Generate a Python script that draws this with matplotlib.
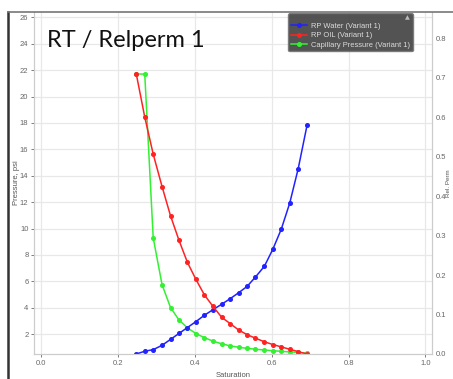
import matplotlib
matplotlib.use("Agg")
import matplotlib.pyplot as plt
from matplotlib.lines import Line2D

plt.rcParams['font.family'] = ['Liberation Sans', 'DejaVu Sans']

# Насыщенность (общая для всех кривых)
saturation = [0.248, 0.270, 0.292, 0.315, 0.337, 0.359, 0.381, 0.403, 0.425, 0.447, 0.470,
              0.492, 0.514, 0.536, 0.558, 0.581, 0.603, 0.625, 0.647, 0.669, 0.692]

# Относительная проницаемость по воде и нефти (правая ось)
rp_water = [0.0, 0.007, 0.011, 0.022, 0.037, 0.052, 0.067, 0.082, 0.098, 0.112, 0.126,
            0.140, 0.155, 0.171, 0.195, 0.222, 0.265, 0.316, 0.382, 0.469, 0.579]
rp_oil = [0.709, 0.600, 0.506, 0.424, 0.350, 0.288, 0.232, 0.189, 0.150, 0.121, 0.093,
          0.077, 0.061, 0.049, 0.040, 0.031, 0.024, 0.018, 0.012, 0.006, 0.0]

# Капиллярное давление, psi (левая ось)
cap_pressure = [21.7, 21.7, 9.3, 5.75, 4.02, 3.08, 2.48, 2.05, 1.74, 1.48, 1.27,
                1.12, 1.01, 0.93, 0.86, 0.80, 0.75, 0.70, 0.66, 0.62, 0.56]

labels = ['RP Water (Variant 1)', 'RP OIL (Variant 1)', 'Capillary Pressure (Variant 1)']
x_ticks = [0.0, 0.2, 0.4, 0.6, 0.8, 1.0]
left_ticks = list(range(2, 27, 2))
right_ticks = [0.0, 0.1, 0.2, 0.3, 0.4, 0.5, 0.6, 0.7, 0.8]

W, H = 453, 379
fig = plt.figure(figsize=(W / 100, H / 100), dpi=100)
ax = fig.add_axes([34 / W, 1 - 354 / H, (432 - 34) / W, (354 - 12) / H])
ax2 = ax.twinx()

tick_col = '#666666'
ms = 2.6
lw = 1.1
lg, = ax.plot(saturation, cap_pressure, color='#33f033', lw=lw, marker='o', ms=ms, label=labels[2])
lb, = ax2.plot(saturation, rp_water, color='#2222ff', lw=lw, marker='o', ms=ms, label=labels[0])
lr, = ax2.plot(saturation, rp_oil, color='#ff2222', lw=lw, marker='o', ms=ms, label=labels[1])

ax.set_xlim(-0.018, 1.017)
ax.set_ylim(0.5, 26.4)
ax2.set_ylim(0.0, 0.866)
ax.set_xticks(x_ticks)
ax.set_xticklabels(['%.1f' % v for v in x_ticks])
ax.set_yticks(left_ticks)
ax2.set_yticks(right_ticks)
ax2.set_yticklabels(['%.1f' % v for v in right_ticks])

ax.grid(True, color='#e8e8e8', lw=0.9)
for a in (ax, ax2):
    a.tick_params(labelsize=5.5, colors=tick_col, length=2, width=0.6, pad=2)
    for s in a.spines.values():
        s.set_color('#cccccc')
        s.set_linewidth(0.8)
    a.spines['top'].set_visible(False)
ax2.tick_params(axis='y', length=0, pad=3)

ax.set_xlabel('Saturation', fontsize=5.5, color='#555555', labelpad=4)
ax.set_ylabel('Pressure, psi', fontsize=5.5, color='#555555')
ax.yaxis.set_label_coords((20 - 34) / 398, 0.5)
ax2.set_ylabel('Rel. Perm', fontsize=4.5, color='#555555', rotation=90)
ax2.yaxis.set_label_coords((445.5 - 34) / 398, 0.5)

# Заголовок внутри области графика
fig.text(47 / W, 1 - 47 / H, 'RT / Relperm 1', fontsize=17, family='Lato', color='#111111', va='baseline')

# Легенда
leg = ax2.legend(handles=[lb, lr, lg], loc='upper left', bbox_to_anchor=(288 / W, 1 - 13 / H),
                 bbox_transform=fig.transFigure, borderaxespad=0, fontsize=5.4, handlelength=2.2,
                 handletextpad=0.5, labelspacing=0.28, borderpad=0.35, fancybox=True,
                 facecolor='#444444', edgecolor='#777777', framealpha=0.92, labelcolor='#dddddd',
                 title='\u25B2', title_fontsize=4.5, alignment='right')
leg.get_title().set_color('#bbbbbb')
leg.get_title().set_family('DejaVu Sans')

# Рамка окна
fig.add_artist(Line2D([8 / W, 8 / W], [0, 1 - 12 / H], color='#333333', lw=1.8))
fig.add_artist(Line2D([8 / W, 1], [1 - 12 / H, 1 - 12 / H], color='#777777', lw=1.2))

fig.savefig('out.png', dpi=100)
